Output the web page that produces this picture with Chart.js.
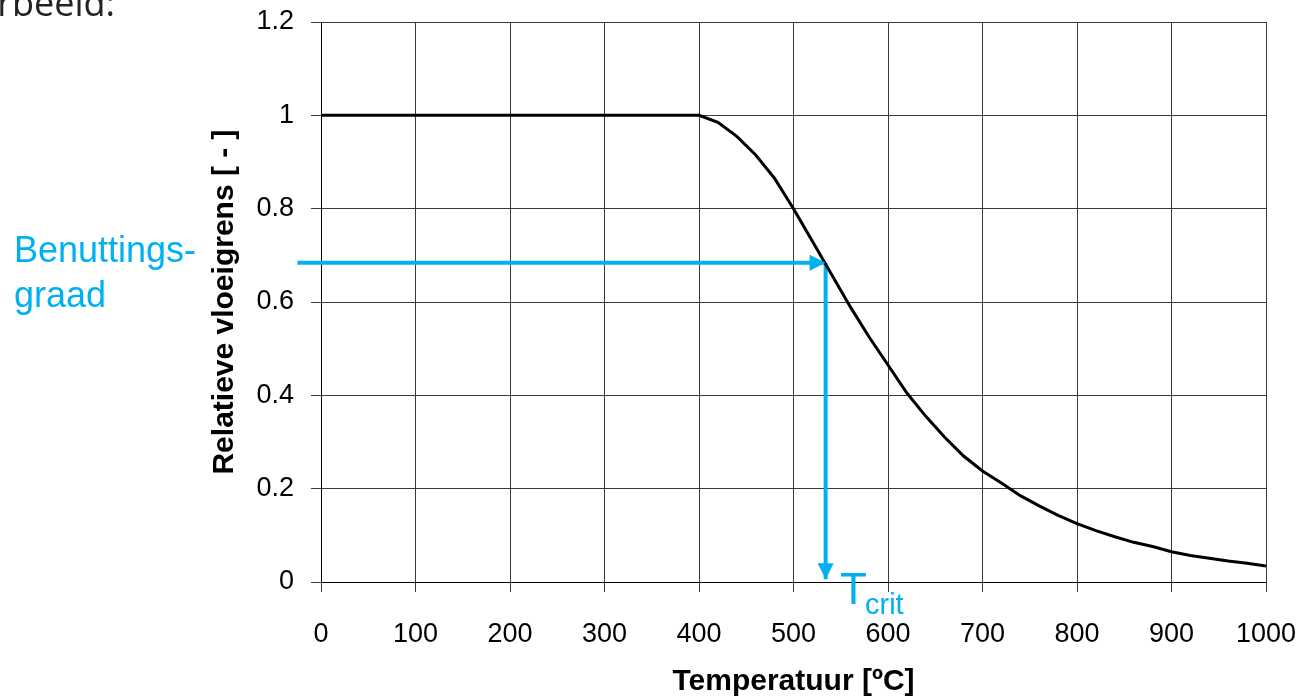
<!DOCTYPE html>
<html>
<head>
<meta charset="utf-8">
<script src="https://cdn.jsdelivr.net/npm/chart.js@4.4.1/dist/chart.umd.min.js"></script>
<style>
body { margin: 0; background: #fff; }
#wrap { position: relative; width: 1301px; height: 700px; overflow: hidden; }
.note { position: absolute; white-space: nowrap; line-height: 1; font-family: 'Liberation Sans', Arial, sans-serif; }
.blue { color: #00b0f0; }
</style>
</head>
<body>
<div id="wrap">
<canvas id="c" width="1301" height="700"></canvas>
<div class="note" style="right:1186px; top:-15px; font-family:'Open Sans'; font-size:36px; color:#222;">Voorbeeld:</div>
<div class="note blue" style="left:14px; top:227px; font-size:36px; line-height:45px;">Benuttings-<br>graad</div>
<div class="note blue" style="left:840px; top:567px; font-size:44px;">T</div>
<div class="note blue" style="left:865px; top:590px; font-size:29px;">crit</div>
</div>
<script>
// temperatuur [C] en relatieve vloeigrens [-]
var temps  = [0, 100, 200, 300, 400, 420, 440, 460, 480, 500, 520, 540, 560, 580, 600,
              620, 640, 660, 680, 700, 720, 740, 760, 780, 800, 820, 840, 860, 880, 900,
              920, 940, 960, 980, 1000];
var ratios = [1, 1, 1, 1, 1, 0.985, 0.955, 0.915, 0.865, 0.80, 0.73, 0.66, 0.59, 0.525, 0.465,
              0.405, 0.355, 0.31, 0.27, 0.238, 0.212, 0.185, 0.163, 0.143, 0.125, 0.11, 0.097, 0.085, 0.076, 0.065,
              0.057, 0.051, 0.045, 0.040, 0.034];

// pijlen: benuttingsgraad -> T_crit
var benutX = [-25, 534];
var benutY = [0.684, 0.684];
var tcritX = [534, 534];
var tcritY = [0.684, 0.006];

var xTicks = [0, 100, 200, 300, 400, 500, 600, 700, 800, 900, 1000];
var xTickLabels = ['0', '100', '200', '300', '400', '500', '600', '700', '800', '900', '1000'];
var yTicks = [0, 0.2, 0.4, 0.6, 0.8, 1, 1.2];
var yTickLabels = ['0', '0.2', '0.4', '0.6', '0.8', '1', '1.2'];

var BLUE = '#00b0f0';
var FONT = "'Liberation Sans', Arial, sans-serif";

var pts = function(xs, ys){
    var out = [];
    for(var i = 0; i < xs.length; i++){ out.push({x: xs[i], y: ys[i]}); }
    return out;
};

// layout padding alone decides where the plot area sits
var noPad = function(s){
    s.paddingTop = 0; s.paddingBottom = 0; s.paddingLeft = 0; s.paddingRight = 0;
};

var arrowHeads = {
    id: 'arrowHeads',
    afterDatasetsDraw: function(chart){
        var ctx = chart.ctx;
        chart.data.datasets.forEach(function(ds, i){
            if(!ds.arrow) return;
            var el = chart.getDatasetMeta(i).data;
            var a = el[el.length - 2], b = el[el.length - 1];
            var ang = Math.atan2(b.y - a.y, b.x - a.x);
            ctx.save();
            ctx.translate(b.x, b.y);
            ctx.rotate(ang);
            ctx.beginPath();
            ctx.moveTo(0, 0);
            ctx.lineTo(-16, -8);
            ctx.lineTo(-16, 8);
            ctx.closePath();
            ctx.fillStyle = ds.borderColor;
            ctx.fill();
            ctx.restore();
        });
    }
};

var grid = {color: '#3a3a3a', lineWidth: 1, tickLength: 10, tickColor: '#3a3a3a'};

new Chart(document.getElementById('c').getContext('2d'), {
    type: 'scatter',
    data: {
        datasets: [
            {
                label: 'vloeigrens',
                data: pts(temps, ratios),
                showLine: true,
                borderColor: '#000',
                borderWidth: 3,
                pointRadius: 0,
                tension: 0
            },
            {
                label: 'benutting',
                data: pts(benutX, benutY),
                showLine: true,
                borderColor: BLUE,
                borderWidth: 4,
                pointRadius: 0,
                clip: false,
                arrow: true
            },
            {
                label: 'tcrit',
                data: pts(tcritX, tcritY),
                showLine: true,
                borderColor: BLUE,
                borderWidth: 4,
                pointRadius: 0,
                clip: false,
                arrow: true
            }
        ]
    },
    options: {
        responsive: false,
        devicePixelRatio: 1,
        animation: false,
        layout: {padding: {left: 0, top: 22, right: 35, bottom: 0}},
        plugins: {legend: {display: false}, tooltip: {enabled: false}},
        scales: {
            x: {
                type: 'linear',
                min: 0,
                max: 1000,
                afterBuildTicks: function(s){ s.ticks = xTicks.map(function(v){ return {value: v}; }); },
                afterFit: function(s){ s.height = 118; noPad(s); },
                grid: grid,
                border: {color: '#000', width: 1},
                ticks: {
                    padding: 26,
                    color: '#000',
                    font: {family: FONT, size: 27},
                    maxRotation: 0,
                    callback: function(v){ return xTickLabels[xTicks.indexOf(v)]; }
                },
                title: {
                    display: true,
                    text: 'Temperatuur [ºC]',
                    color: '#000',
                    font: {family: FONT, size: 30, weight: 'bold'},
                    padding: {top: 0, bottom: 0}
                }
            },
            y: {
                type: 'linear',
                min: 0,
                max: 1.2,
                afterBuildTicks: function(s){ s.ticks = yTicks.map(function(v){ return {value: v}; }); },
                afterFit: function(s){ s.width = 321; noPad(s); },
                grid: grid,
                border: {color: '#000', width: 1},
                ticks: {
                    padding: 17,
                    color: '#000',
                    font: {family: FONT, size: 27},
                    callback: function(v){ return yTickLabels[yTicks.indexOf(v)]; }
                },
                title: {
                    display: true,
                    text: 'Relatieve vloeigrens [ - ]',
                    color: '#000',
                    font: {family: FONT, size: 30, weight: 'bold'},
                    padding: {top: 207, bottom: 0}
                }
            }
        }
    },
    plugins: [arrowHeads]
});
</script>
</body>
</html>
